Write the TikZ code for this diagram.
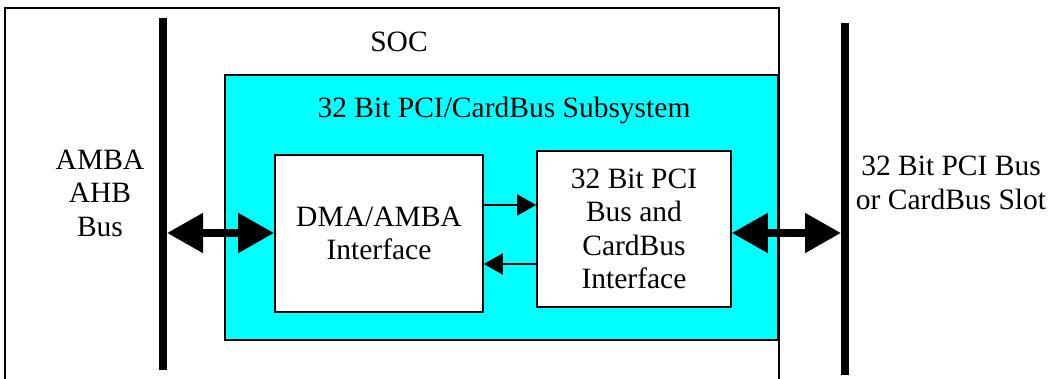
\documentclass[tikz,border=0pt]{standalone}
\usepackage{fontspec}
\setmainfont{Liberation Serif}
\usetikzlibrary{arrows.meta}

\definecolor{subsyscyan}{RGB}{0,255,255}

\tikzset{
  blockbox/.style={draw=black, line width=1.6pt, fill=white, minimum width=#1},
  busbar/.style={line width=8pt},
  busarrow/.style={line width=8pt, {Triangle[length=36pt,width=38pt]}-{Triangle[length=36pt,width=38pt]}},
  linkarrow/.style={line width=2pt, -{Triangle[length=19pt,width=21pt]}},
  lbl/.style={align=center, inner sep=0pt, font=\rmfamily\fontsize{29.5}{33.5}\selectfont}
}

\begin{document}
\begin{tikzpicture}[x=1pt,y=1pt,yscale=-1]
\useasboundingbox (0,0) rectangle (1048,379);

% SOC outline, open at the bottom
\draw[line width=1.5pt] (5,379) -- (5,8) -- (779,8) -- (779,379);
\node[lbl] (soc) at (399,42) {SOC};

% subsystem
\node[draw=black, line width=1.6pt, fill=subsyscyan, minimum width=553pt, minimum height=265pt] (subsys) at (501.5,207.5) {};
\node[lbl] (subsyslbl) at (504,110) {32 Bit PCI/CardBus Subsystem};

\node[blockbox=208pt, minimum height=157pt, lbl] (dma) at (379,233.5) {DMA/AMBA\\Interface};
\node[blockbox=194pt, minimum height=156pt, lbl] (pci) at (634,229) {32 Bit PCI\\Bus and\\CardBus\\Interface};

% buses
\coordinate (ambatop) at (163,18);
\coordinate (ambabot) at (163,370);
\coordinate (pcitop) at (845,23);
\coordinate (pcibot) at (845,375);
\draw[busbar] (ambatop) -- (ambabot);
\draw[busbar] (pcitop) -- (pcibot);

\node[lbl] (ambalbl) at (100,193) {AMBA\\AHB\\Bus};
\node[lbl] (slotlbl) at (951,183) {32 Bit PCI Bus\\or CardBus Slot};

% connections
\coordinate (ambaport) at (167,233);
\coordinate (slotport) at (841,233);
\draw[busarrow] (ambaport) -- (dma.west |- ambaport);
\draw[busarrow] (pci.east |- slotport) -- (slotport);

\coordinate (fwd) at (0,205);
\coordinate (back) at (0,264);
\draw[linkarrow] (dma.east |- fwd) -- (pci.west |- fwd);
\draw[linkarrow] (pci.west |- back) -- (dma.east |- back);

\end{tikzpicture}
\end{document}
